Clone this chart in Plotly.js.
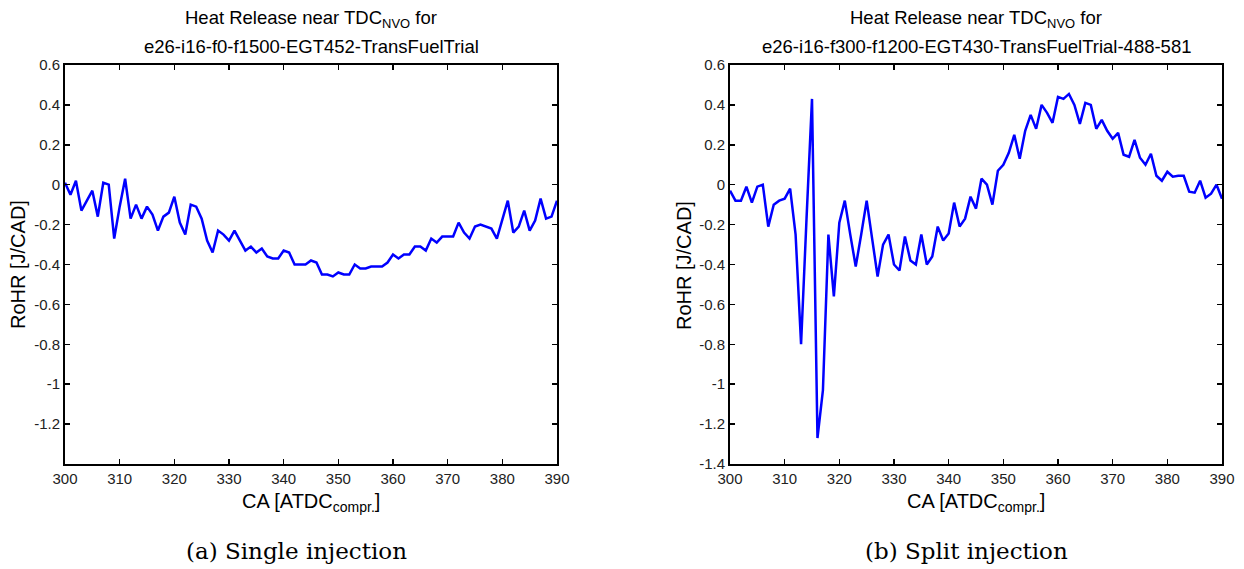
<!DOCTYPE html>
<html>
<head>
<meta charset="utf-8">
<script src="https://cdn.plot.ly/plotly-3.0.1.min.js"></script>
<style>
html,body{margin:0;padding:0;background:#fff;}
#chart{width:1244px;height:569px;}
</style>
</head>
<body>
<div id="chart"></div>
<script>
// Crank angle [CAD ATDC compr.]
const caSingle = [];
for (let c = 300; c <= 390; c++) caSingle.push(c);
const caSplit = caSingle.slice();

// (a) Single injection RoHR [J/CAD]
const rohrSingle = [
  0.01, -0.05, 0.02, -0.13, -0.08, -0.03, -0.16, 0.01, 0.00, -0.27,
  -0.11, 0.03, -0.17, -0.10, -0.17, -0.11, -0.15, -0.23, -0.16, -0.14,
  -0.06, -0.19, -0.25, -0.10, -0.11, -0.17, -0.28, -0.34, -0.23, -0.25,
  -0.28, -0.23, -0.28, -0.33, -0.31, -0.34, -0.32, -0.36, -0.37, -0.37,
  -0.33, -0.34, -0.40, -0.40, -0.40, -0.38, -0.39, -0.45, -0.45, -0.46,
  -0.44, -0.45, -0.45, -0.40, -0.42, -0.42, -0.41, -0.41, -0.41, -0.39,
  -0.35, -0.37, -0.35, -0.35, -0.31, -0.31, -0.33, -0.27, -0.29, -0.26,
  -0.26, -0.26, -0.19, -0.24, -0.27, -0.21, -0.20, -0.21, -0.22, -0.27,
  -0.17, -0.08, -0.24, -0.21, -0.13, -0.23, -0.18, -0.07, -0.17, -0.16,
  -0.08
];

// (b) Split injection RoHR [J/CAD]
const rohrSplit = [
  -0.03, -0.08, -0.08, -0.01, -0.09, -0.01, 0.00, -0.21, -0.10, -0.08,
  -0.07, -0.02, -0.25, -0.80, -0.17, 0.43, -1.27, -1.03, -0.25, -0.56,
  -0.19, -0.08, -0.25, -0.41, -0.25, -0.08, -0.27, -0.46, -0.30, -0.25,
  -0.40, -0.43, -0.26, -0.38, -0.40, -0.25, -0.40, -0.36, -0.21, -0.28,
  -0.245, -0.09, -0.21, -0.17, -0.06, -0.12, 0.03, 0.00, -0.10, 0.07,
  0.10, 0.16, 0.25, 0.13, 0.27, 0.35, 0.28, 0.40, 0.36, 0.31,
  0.44, 0.43, 0.455, 0.40, 0.305, 0.41, 0.40, 0.28, 0.325, 0.27,
  0.23, 0.26, 0.15, 0.14, 0.225, 0.135, 0.10, 0.155, 0.045, 0.02,
  0.065, 0.04, 0.045, 0.045, -0.035, -0.04, 0.02, -0.065, -0.045, 0.00,
  -0.07
];

// Tick labels
const xTickVals = [300, 310, 320, 330, 340, 350, 360, 370, 380, 390];
const xTickText = ['300','310','320','330','340','350','360','370','380','390'];
const yTickValsA = [0.6, 0.4, 0.2, 0, -0.2, -0.4, -0.6, -0.8, -1, -1.2];
const yTickTextA = ['0.6','0.4','0.2','0','-0.2','-0.4','-0.6','-0.8','-1','-1.2'];
const yTickValsB = [0.6, 0.4, 0.2, 0, -0.2, -0.4, -0.6, -0.8, -1, -1.2, -1.4];
const yTickTextB = ['0.6','0.4','0.2','0','-0.2','-0.4','-0.6','-0.8','-1','-1.2','-1.4'];

const titleA1 = 'Heat Release near TDC<sub>NVO</sub> for';
const titleA2 = 'e26-i16-f0-f1500-EGT452-TransFuelTrial';
const titleB1 = 'Heat Release near TDC<sub>NVO</sub> for';
const titleB2 = 'e26-i16-f300-f1200-EGT430-TransFuelTrial-488-581';
const xLabel = 'CA [ATDC<sub>compr.</sub>]';
const yLabel = 'RoHR [J/CAD]';
const captionA = '(a) Single injection';
const captionB = '(b) Split injection';

const W = 1244, H = 569;
const px = v => v / W;
const py = v => 1 - v / H;

const SANS = 'Liberation Sans, Arial, sans-serif';
const titleFont = {family: SANS, size: 18.5, color: '#000'};
const labelFont = {family: SANS, size: 20, color: '#000'};
const tickFont = {family: SANS, size: 15, color: '#222'};
const serifFont = {family: 'DejaVu Serif, Liberation Serif, serif', size: 23, color: '#000'};

function xAx(l, r) {
  return {
    domain: [px(l), px(r)], range: [300, 390],
    tickvals: xTickVals, ticktext: xTickText,
    ticks: 'inside', ticklen: 5, tickwidth: 1.5, tickcolor: '#000',
    mirror: 'allticks', showline: true, linewidth: 2, linecolor: '#000',
    showgrid: false, zeroline: false, tickfont: tickFont, fixedrange: true
  };
}
function yAx(vals, text, anchor) {
  return {
    domain: [py(464), py(65)], range: [-1.4, 0.6],
    tickvals: vals, ticktext: text, anchor: anchor,
    ticks: 'inside', ticklen: 5, tickwidth: 1.5, tickcolor: '#000',
    mirror: 'allticks', showline: true, linewidth: 2, linecolor: '#000',
    showgrid: false, zeroline: false, tickfont: tickFont, fixedrange: true
  };
}

const traces = [
  {x: caSingle, y: rohrSingle, xaxis: 'x', yaxis: 'y', type: 'scatter', mode: 'lines',
   line: {color: '#0000ff', width: 2.5}, hoverinfo: 'skip'},
  {x: caSplit, y: rohrSplit, xaxis: 'x2', yaxis: 'y2', type: 'scatter', mode: 'lines',
   line: {color: '#0000ff', width: 2.5}, hoverinfo: 'skip'}
];

function ann(text, x, y, font, opts) {
  return Object.assign({text: text, x: px(x), y: py(y), xref: 'paper', yref: 'paper',
    showarrow: false, xanchor: 'center', yanchor: 'middle', font: font}, opts || {});
}

const layout = {
  width: W, height: H,
  margin: {l: 0, r: 0, t: 0, b: 0},
  paper_bgcolor: '#fff', plot_bgcolor: '#fff',
  showlegend: false,
  xaxis: xAx(65, 557),
  yaxis: yAx(yTickValsA, yTickTextA, 'x'),
  xaxis2: xAx(730, 1222),
  yaxis2: yAx(yTickValsB, yTickTextB, 'x2'),
  annotations: [
    ann(titleA1, 311, 19, titleFont),
    ann(titleA2, 311, 47, titleFont),
    ann(titleB1, 976, 19, titleFont),
    ann(titleB2, 976, 47, titleFont),
    ann(xLabel, 311, 502, labelFont),
    ann(xLabel, 976, 502, labelFont),
    ann(yLabel, 18, 265, labelFont, {textangle: -90}),
    ann(yLabel, 684, 265, labelFont, {textangle: -90}),
    ann(captionA, 296, 551, serifFont),
    ann(captionB, 966, 551, serifFont)
  ]
};

Plotly.newPlot('chart', traces, layout, {staticPlot: true, displayModeBar: false});
</script>
</body>
</html>
